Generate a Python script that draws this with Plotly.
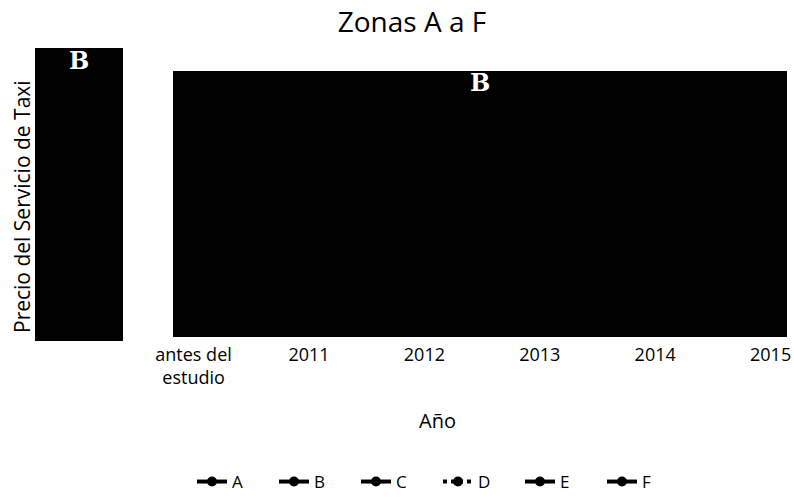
import plotly.graph_objects as go

# ---- data ----
categories = ["antes del<br>estudio", "2011", "2012", "2013", "2014", "2015"]
zona_a = [18, 20, 21, 22, 24, 25]
zona_b = [22, 24, 25, 27, 28, 30]
zona_c = [25, 27, 28, 30, 32, 33]
zona_d = [28, 30, 32, 33, 35, 37]
zona_e = [31, 33, 35, 37, 39, 41]
zona_f = [35, 37, 39, 41, 43, 45]
series_names = ["A", "B", "C", "D", "E", "F"]
series_values = [zona_a, zona_b, zona_c, zona_d, zona_e, zona_f]

# ---- styles ----
line_dashes = ["solid", "solid", "solid", "dot", "solid", "solid"]
font_main = "Open Sans"

fig = go.Figure()
for name, vals, dash in zip(series_names, series_values, line_dashes):
    fig.add_trace(go.Scatter(
        x=categories, y=vals, name=name, mode="lines+markers",
        line=dict(color="black", width=4, dash=dash),
        marker=dict(color="black", size=10, symbol="circle"),
    ))

W, H = 794, 498
L, R, T, B = 173, 7, 71, 161
pw, ph = W - L - R, H - T - B


def px_x(x):
    return (x - L) / pw


def px_y(y):
    return (H - B - y) / ph


fig.update_layout(
    width=W, height=H,
    margin=dict(l=L, r=R, t=T, b=B, autoexpand=False),
    paper_bgcolor="white",
    plot_bgcolor="black",
    font=dict(family=font_main, color="black"),
    title=dict(text="Zonas A a F", x=412 / W, xref="container", xanchor="center",
               y=1 - 22 / H, yref="container", yanchor="middle",
               font=dict(size=28, family=font_main, color="black")),
    showlegend=True,
    legend=dict(orientation="h", x=px_x(438), xanchor="center", y=px_y(482), yanchor="middle",
                font=dict(size=17, family=font_main, color="black"),
                entrywidth=37, entrywidthmode="pixels", bgcolor="rgba(0,0,0,0)"),
    hovermode=False,
)

fig.update_xaxes(type="category", range=[-0.178, 5.142], showgrid=False, zeroline=False,
                 showline=False, ticks="", ticklabelstandoff=5,
                 tickfont=dict(size=18, family=font_main, color="black"))
fig.update_yaxes(range=[0, 50], showgrid=False, zeroline=False, showline=False,
                 showticklabels=False, ticks="")

# blacked-out y tick-label area
fig.add_shape(type="rect", xref="paper", yref="paper",
              x0=px_x(35), x1=px_x(123), y0=px_y(341), y1=px_y(48),
              fillcolor="black", line=dict(width=0), layer="above")

# axis titles
fig.add_annotation(text="Precio del Servicio de Taxi", xref="paper", yref="paper",
                   x=px_x(22), y=px_y(207), textangle=-90, showarrow=False,
                   xanchor="center", yanchor="middle",
                   font=dict(size=21, family=font_main, color="black"))
fig.add_annotation(text="Año", xref="paper", yref="paper",
                   x=px_x(437), y=px_y(420), showarrow=False,
                   xanchor="center", yanchor="middle",
                   font=dict(size=20, family=font_main, color="black"))

# white "B" marks
for bx, by in [(79, 61), (480, 82)]:
    fig.add_annotation(text="<b>B</b>", xref="paper", yref="paper",
                       x=px_x(bx), y=px_y(by), showarrow=False,
                       xanchor="center", yanchor="middle",
                       font=dict(size=24, family="DejaVu Serif", color="white"))

fig.write_html("out.html", config={"displayModeBar": False},
               post_script="document.body.style.margin='0';")
